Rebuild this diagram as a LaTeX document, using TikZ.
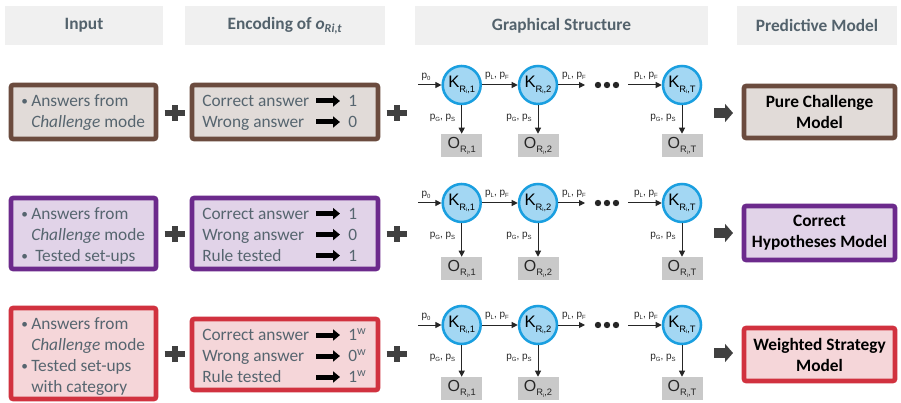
\documentclass[tikz,border=0pt]{standalone}
\usepackage{fontspec}
\setmainfont{Carlito}
\newfontfamily\gfont{Liberation Sans}
\usetikzlibrary{arrows.meta}
\definecolor{hdrfill}{HTML}{F0F0F0}
\definecolor{hdrtext}{HTML}{53626C}
\definecolor{txt}{HTML}{56656F}
\definecolor{brownB}{HTML}{6B4B3E}
\definecolor{brownF}{HTML}{E1DBD8}
\definecolor{purpB}{HTML}{6C2A8C}
\definecolor{purpF}{HTML}{E1D3E8}
\definecolor{redB}{HTML}{D1323F}
\definecolor{redF}{HTML}{F5D6D9}
\definecolor{kfill}{HTML}{A3D7F3}
\definecolor{kdraw}{HTML}{1A9FE0}
\definecolor{ofill}{HTML}{C9C9C9}
\definecolor{darkg}{HTML}{404040}
\newcommand{\ksb}[2]{#1\raisebox{-0.55ex}{\fontsize{7}{8}\selectfont R\raisebox{-0.3ex}{\fontsize{4}{5}\selectfont i},#2}}
\newcommand{\plb}[1]{p\raisebox{-0.35ex}{\fontsize{4.5}{5}\selectfont #1}}
\newcommand{\bul}{\makebox[7.5pt][l]{\raisebox{0.1ex}{\fontsize{10}{10}\selectfont •}}}
\tikzset{
  hdr/.style={fill=hdrfill, text=hdrtext, font=\fontsize{13}{15.6}\selectfont\bfseries, inner sep=0pt, minimum height=29.25pt},
  box/.style={draw, line width=3.4pt, rounded corners=1.5pt, inner sep=0pt},
  txtl/.style={anchor=base west, text=txt, font=\fontsize{13}{15.75}\selectfont, inner sep=0pt},
  knode/.style={circle, fill=kfill, draw=kdraw, line width=1.9pt, minimum size=28.5pt, inner sep=0pt, font=\gfont\fontsize{12.5}{13}\selectfont},
  onode/.style={fill=ofill, minimum width=30.75pt, minimum height=17.25pt, inner sep=0pt, font=\gfont\fontsize{12}{13}\selectfont, text=black!85},
  plab/.style={font=\gfont\fontsize{7.5}{8}\selectfont, inner sep=0pt, text=black!85},
  garrow/.style={-{Triangle[length=4.5pt,width=4.5pt]}, line width=0.75pt, black!85},
  encarrow/.style={line width=3.75pt, -{Triangle[length=5.25pt,width=8.25pt]}},
  blockarrow/.style={darkg, line width=8pt, -{Triangle[length=6pt,width=13.5pt]}},
  plusline/.style={darkg, line width=4.5pt},
  pred/.style={box, font=\fontsize{13}{15.75}\selectfont\bfseries, align=center, text=black, minimum width=113.25pt},
  dotn/.style={circle, fill=black!85, minimum size=4.8pt, inner sep=0pt}
}
\begin{document}
\begin{tikzpicture}[x=0.75pt,y=-0.75pt]
\path[fill=white, use as bounding box] (0,0) rectangle (901,403);
% headers
\node[hdr, minimum width=118.5pt] (h1) at (84,25.5) {Input};
\node[hdr, minimum width=150pt] (h2) at (285,25.5) {Encoding of \textit{o}\textsubscript{\textit{Ri,t}}};
\node[hdr, minimum width=219.75pt] (h3) at (561.5,25.5) {Graphical Structure};
\node[hdr, minimum width=120pt] (h4) at (817,25.5) {Predictive Model};

% input boxes
\node[box, draw=brownB, fill=brownF, minimum width=108.75pt, minimum height=40.5pt] (in1) at (83.5,112) {};
\node[box, draw=purpB, fill=purpF, minimum width=108.75pt, minimum height=53.25pt] (in2) at (83.5,233.5) {};
\node[box, draw=redB, fill=redF, minimum width=108.75pt, minimum height=68.25pt] (in3) at (83.5,353.5) {};
\node[txtl] (ti1) at (21,106.7) {\begin{tabular}[t]{@{}l@{}l@{}}\bul & Answers from\\ & \textit{Challenge} mode\end{tabular}};
\node[txtl] (ti2) at (21,219.3) {\begin{tabular}[t]{@{}l@{}l@{}}\bul & Answers from\\ & \textit{Challenge} mode\\ \bul & \hspace{3pt}Tested set-ups\end{tabular}};
\node[txtl] (ti3) at (21,329.3) {\begin{tabular}[t]{@{}l@{}l@{}}\bul & Answers from\\ & \textit{Challenge} mode\\ \bul & Tested set-ups\\ & with category\end{tabular}};

% encoding boxes
\node[box, draw=brownB, fill=brownF, minimum width=139.5pt, minimum height=40.5pt] (en1) at (285,112) {};
\node[box, draw=purpB, fill=purpF, minimum width=139.5pt, minimum height=53.25pt] (en2) at (285,233.5) {};
\node[box, draw=redB, fill=redF, minimum width=139.5pt, minimum height=53.25pt] (en3) at (285,354.5) {};
\node[txtl] (te1) at (202,106.7) {\begin{tabular}[t]{@{}l@{}l@{}}\makebox[109.5pt][l]{Correct answer} & 1\\ Wrong answer & 0\end{tabular}};
\node[txtl] (te2) at (202,219.3) {\begin{tabular}[t]{@{}l@{}l@{}}\makebox[109.5pt][l]{Correct answer} & 1\\ Wrong answer & 0\\ Rule tested & 1\end{tabular}};
\node[txtl] (te3) at (202,340.7) {\begin{tabular}[t]{@{}l@{}l@{}}\makebox[109.5pt][l]{Correct answer} & 1\textsuperscript{w}\\ Wrong answer & 0\textsuperscript{w}\\ Rule tested & 1\textsuperscript{w}\end{tabular}};
\foreach \yy [count=\i] in {101,122,213.6,234.6,255.6,335,356,377}{
  \coordinate (ea\i) at (316,\yy);
  \coordinate (eb\i) at (340,\yy);
  \draw[encarrow] (ea\i) -- (eb\i);
}

% plus signs
\foreach \px/\py [count=\i] in {175/113,397/113,175/234,397/234,175/354,397/354}{
  \coordinate (pc\i) at (\px,\py);
  \draw[plusline] ([xshift=-7.8pt]pc\i) -- ([xshift=7.8pt]pc\i) ([yshift=-6pt]pc\i) -- ([yshift=6pt]pc\i);
}

% graphs
\foreach \r/\ky/\oy in {1/85/145.5,2/203/268.5,3/325/388.5}{
  \node[knode] (ka\r) at (461.7,\ky) {\ksb{K}{1}};
  \node[knode] (kb\r) at (538,\ky) {\ksb{K}{2}};
  \node[knode] (kt\r) at (682,\ky) {\ksb{K}{T}};
  \node[onode] (oa\r) at (461.7,\oy) {\ksb{O}{1}};
  \node[onode] (ob\r) at (538,\oy) {\ksb{O}{2}};
  \node[onode] (ot\r) at (682,\oy) {\ksb{O}{T}};
  \coordinate (s\r) at (418,\ky);
  \coordinate (e\r) at (585,\ky);
  \coordinate (f\r) at (628,\ky);
  \draw[garrow] (s\r) -- (ka\r);
  \draw[garrow] (ka\r) -- (kb\r);
  \draw[garrow] (kb\r) -- (e\r);
  \draw[garrow] (f\r) -- (kt\r);
  \draw[garrow] (ka\r) -- (oa\r);
  \draw[garrow] (kb\r) -- (ob\r);
  \draw[garrow] (kt\r) -- (ot\r);
  \node[dotn] (da\r) at (598,\ky) {};
  \node[dotn] (db\r) at (607,\ky) {};
  \node[dotn] (dc\r) at (616,\ky) {};
  \node[plab] (lz\r) at (426,\ky-8) {\plb{0}};
  \node[plab] (la\r) at (497,\ky-9) {\plb{L}, \plb{F}};
  \node[plab] (lb\r) at (574,\ky-9) {\plb{L}, \plb{F}};
  \node[plab] (lc\r) at (646,\ky-9) {\plb{L}, \plb{F}};
  \node[plab, anchor=east] (ga\r) at (455.5,\ky+33) {\plb{G}, \plb{S}};
  \node[plab, anchor=east] (gb\r) at (532,\ky+33) {\plb{G}, \plb{S}};
  \node[plab, anchor=east] (gt\r) at (676,\ky+33) {\plb{G}, \plb{S}};
}

% block arrows
\foreach \yy [count=\i] in {113,233,353}{
  \coordinate (ba\i) at (714,\yy);
  \coordinate (bb\i) at (733,\yy);
  \draw[blockarrow] (ba\i) -- (bb\i);
}

% predictive boxes
\node[pred, draw=brownB, fill=brownF, minimum height=39pt] (pm1) at (819.5,112) {Pure Challenge\\Model};
\node[pred, draw=purpB, fill=purpF, minimum height=40.5pt] (pm2) at (819.5,233) {Correct\\Hypotheses Model};
\node[pred, draw=redB, fill=redF, minimum height=39.75pt] (pm3) at (819.5,354.5) {Weighted Strategy\\Model};
\end{tikzpicture}
\end{document}
